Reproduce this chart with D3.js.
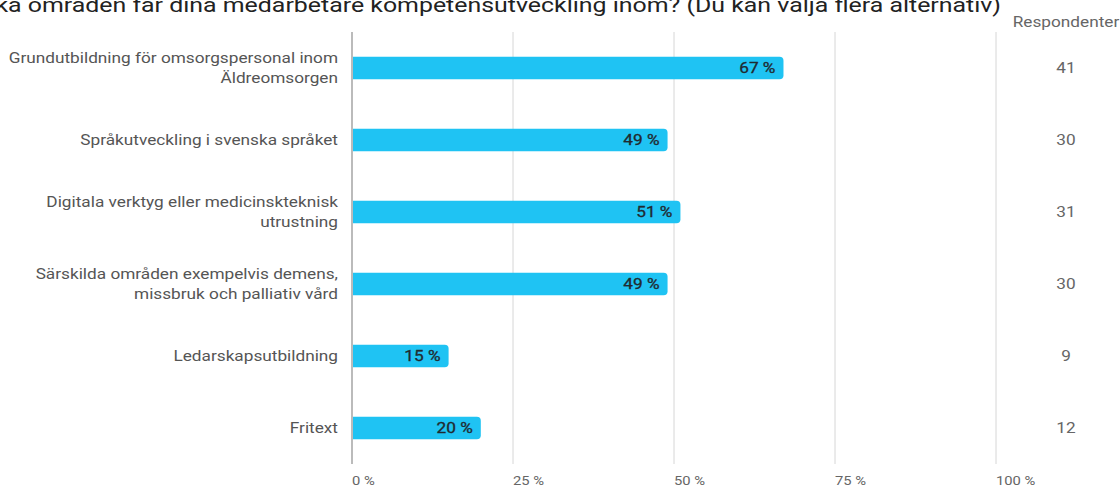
<!DOCTYPE html>
<html>
<head>
<meta charset="utf-8">
<script src="https://d3js.org/d3.v7.min.js"></script>
<style>
  body { margin: 0; background: #fff; overflow: hidden; }
  text { font-family: Roboto, "Noto Sans", sans-serif; }
</style>
</head>
<body>
<script>
// data
const categories = [
  ["Grundutbildning för omsorgspersonal inom", "Äldreomsorgen"],
  ["Språkutveckling i svenska språket"],
  ["Digitala verktyg eller medicinskteknisk", "utrustning"],
  ["Särskilda områden exempelvis demens,", "missbruk och palliativ vård"],
  ["Ledarskapsutbildning"],
  ["Fritext"]
];
const percents = [67, 49, 51, 49, 15, 20];
const respondents = [41, 30, 31, 30, 9, 12];
const tickValues = [0, 25, 50, 75, 100];

const title = "Vilka områden får dina medarbetare kompetensutveckling inom? (Du kan välja flera alternativ)";

// layout
const width = 1120;
const height = 488;
const plotLeft = 352;
const plotRight = 996;
const plotTop = 32;
const plotBottom = 464;
// the screenshot is stretched sideways, so text is too
const sx = 1.23;
const place = (tx, ty, s = sx) => `translate(${tx},${ty}) scale(${s},1)`;

const svg = d3.select("body").append("svg")
  .attr("width", width).attr("height", height);

const x = d3.scaleLinear().domain([0, 100]).range([plotLeft, plotRight]);
const y = d3.scaleBand()
  .domain(d3.range(categories.length))
  .range([plotTop, plotBottom])
  .paddingInner(0.69)
  .paddingOuter(0.345);

// title (clipped at top-left like the screenshot)
svg.append("text")
  .attr("transform", place(1001, 12, 1.245))
  .attr("text-anchor", "end")
  .attr("font-size", 20)
  .attr("fill", "#222")
  .text(title);

// grid
svg.append("g").selectAll("line")
  .data(tickValues)
  .join("line")
  .attr("x1", d => x(d)).attr("x2", d => x(d))
  .attr("y1", plotTop).attr("y2", plotBottom)
  .attr("stroke", d => d === 0 ? "#aaa" : "#d6d6d6")
  .attr("stroke-width", d => d === 0 ? 1.6 : 1);

// axis labels
svg.append("g").selectAll("text")
  .data(tickValues)
  .join("text")
  .attr("transform", d => place(x(d), 485))
  .attr("font-size", 12)
  .attr("fill", "#666")
  .text(d => d + " %");

// bars with rounded right end
const r = 4;
svg.append("g").selectAll("path")
  .data(percents)
  .join("path")
  .attr("d", (d, i) => {
    const xa = x(0) + 1, xb = x(d), ya = y(i), h = y.bandwidth();
    return `M${xa},${ya}H${xb - r}Q${xb},${ya} ${xb},${ya + r}V${ya + h - r}Q${xb},${ya + h} ${xb - r},${ya + h}H${xa}Z`;
  })
  .attr("fill", "#1fc3f3");

// value labels
svg.append("g").selectAll("text")
  .data(percents)
  .join("text")
  .attr("transform", (d, i) => place(x(d) - 8, y(i) + y.bandwidth() / 2 + 5))
  .attr("text-anchor", "end")
  .attr("font-size", 14)
  .attr("fill", "#1f2a30")
  .attr("stroke", "#1f2a30")
  .attr("stroke-width", 0.3)
  .text(d => d + " %");

// category labels
const labels = svg.append("g").selectAll("text")
  .data(categories)
  .join("text")
  .attr("text-anchor", "end")
  .attr("font-size", 14)
  .attr("fill", "#555")
  .attr("transform", (d, i) => place(338, y(i) + y.bandwidth() / 2 + 5 - (d.length - 1) * 10));

labels.selectAll("tspan")
  .data(d => d)
  .join("tspan")
  .attr("x", 0)
  .attr("dy", (d, j) => j === 0 ? 0 : 20)
  .text(d => d);

// respondents column
svg.append("text")
  .attr("transform", place(1066, 27))
  .attr("text-anchor", "middle")
  .attr("font-size", 14)
  .attr("fill", "#666")
  .text("Respondenter");

svg.append("g").selectAll("text")
  .data(respondents)
  .join("text")
  .attr("transform", (d, i) => place(1066, y(i) + y.bandwidth() / 2 + 5))
  .attr("text-anchor", "middle")
  .attr("font-size", 14)
  .attr("fill", "#666")
  .text(d => d);
</script>
</body>
</html>
